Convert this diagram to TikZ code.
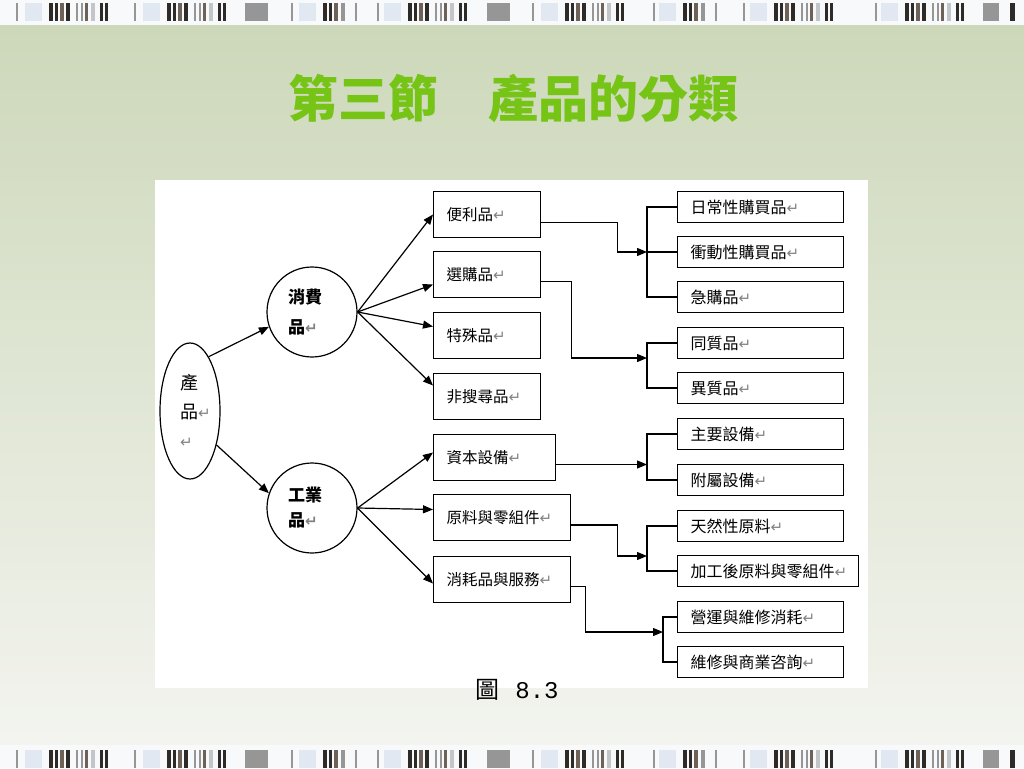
\documentclass[tikz,border=0pt]{standalone}
\usepackage{fontspec}
\setmainfont{Noto Sans CJK TC}
\newfontfamily\arrowfont{DejaVu Sans}
\newfontfamily\capfont{Liberation Mono}
\usetikzlibrary{positioning,shapes.geometric,arrows.meta}

\definecolor{titlegreen}{RGB}{118,196,22}
\definecolor{retgray}{RGB}{130,130,130}
\definecolor{bardark}{RGB}{45,42,40}
\definecolor{barbrown}{RGB}{110,98,88}
\definecolor{barmid}{RGB}{150,150,150}
\definecolor{barlight}{RGB}{195,198,200}
\definecolor{barpale}{RGB}{226,232,242}

\newcommand\retmark{{\color{retgray}\arrowfont\fontsize{15}{15}\selectfont ↵}}

\tikzset{
	midbox/.style={draw,anchor=west,minimum height=46pt,text width=#1,align=left,inner xsep=13pt,font=\fontsize{15.5}{18}\selectfont},
	subbox/.style={draw,anchor=west,minimum height=31pt,text width=#1,align=left,inner xsep=13pt,font=\fontsize{16}{18}\selectfont},
	catnode/.style={draw,circle,minimum size=90pt,inner sep=0pt,text width=48pt,align=left,font=\bfseries\fontsize{17}{30}\selectfont},
	prodnode/.style={draw,ellipse,minimum width=60pt,minimum height=136pt,inner sep=0pt,text width=20pt,align=left,font=\fontsize{18}{29}\selectfont}
}

\begin{document}
\begin{tikzpicture}[x=1pt,y=-1pt,line width=1.2pt,>={Triangle[length=10pt,width=8pt]}]

\useasboundingbox (0,0) rectangle (1024,768);

%%%%%%%%%%%%%%%%%%%%%%%%%%%%%%%%%%%%%%%%%%%%%%%%%%%%%%%%%%%%%%%%
% slide background
\shade [top color={rgb,255:red,205;green,216;blue,186},middle color={rgb,255:red,228;green,234;blue,218},bottom color={rgb,255:red,243;green,244;blue,239}] (0,25) rectangle (1024,745);
\fill [color={rgb,255:red,247;green,249;blue,251}] (0,0) rectangle (1024,25);
\fill [color={rgb,255:red,247;green,249;blue,251}] (0,745) rectangle (1024,768);

\foreach \by in {3,750} {
	\foreach \gx in {49,167,408,565,774,905} {
		\fill [barpale]  (\gx-24,\by) rectangle ++(17,18);
		\fill [bardark]  (\gx,\by)    rectangle ++(4,18);
		\fill [bardark]  (\gx+6,\by)  rectangle ++(3,18);
		\fill [barbrown] (\gx+11,\by) rectangle ++(4,18);
		\fill [bardark]  (\gx+17,\by) rectangle ++(4,18);
		\fill [barmid]   (\gx+27,\by) rectangle ++(2,18);
		\fill [barmid]   (\gx+32,\by) rectangle ++(2,18);
		\fill [barbrown] (\gx+36,\by) rectangle ++(3,18);
		\fill [barlight] (\gx+42,\by) rectangle ++(4,18);
		\fill [bardark]  (\gx+51,\by) rectangle ++(3,18);
		\fill [bardark]  (\gx+56,\by) rectangle ++(3,18);
	}
	\foreach \gx in {323,683} {
		\fill [barpale]  (\gx-24,\by) rectangle ++(17,18);
		\fill [bardark]  (\gx,\by)    rectangle ++(4,18);
		\fill [bardark]  (\gx+6,\by)  rectangle ++(3,18);
		\fill [barbrown] (\gx+11,\by) rectangle ++(4,18);
		\fill [barmid]   (\gx+18,\by) rectangle ++(4,18);
		\fill [barmid]   (\gx+32,\by) rectangle ++(2,18);
	}
	\foreach \gx in {245,487} {
		\fill [barmid] (\gx,\by) rectangle ++(23,18);
	}
	\foreach \gx in {16,134,291,377,532,653,743,875} {
		\fill [barmid] (\gx,\by) rectangle ++(2,18);
	}
	\fill [barmid]  (983,\by)  rectangle ++(16,18);
	\fill [bardark] (1010,\by) rectangle ++(5,18);
}

\node [font=\bfseries\fontsize{50}{54}\selectfont,text=titlegreen] (title) at (513,98) {第三節　產品的分類};

\fill [white] (155,180) rectangle (868,688);

%%%%%%%%%%%%%%%%%%%%%%%%%%%%%%%%%%%%%%%%%%%%%%%%%%%%%%%%%%%%%%%%
% diagram
\node [prodnode] (chanpin) at (190,411) {產\\品\retmark\\\retmark};
\node [catnode] (xiaofei) at (312,312) {消費\\品\retmark};
\node [catnode,font=\bfseries\fontsize{17}{25}\selectfont] (gongye) at (312,508) {工業\\品\retmark};

\foreach \nm/\yy/\bw/\txt in {bianli/214.5/81pt/便利品, xuangou/274.5/81pt/選購品, teshu/335.5/81pt/特殊品, feisou/396.5/81pt/非搜尋品, ziben/457.5/96pt/資本設備, yuanliao/517.5/111pt/原料與零組件, xiaohao/579.5/111pt/消耗品與服務}
	\node [midbox=\bw] (\nm) at (433,\yy) {\txt\retmark};

\foreach \nm/\yy/\bw/\txt in {richang/207/140pt/日常性購買品, chongdong/252/140pt/衝動性購買品, jigou/297/140pt/急購品, tongzhi/343/140pt/同質品, yizhi/388/140pt/異質品, zhuyao/434/140pt/主要設備, fushu/480/140pt/附屬設備, tianran/526/140pt/天然性原料, jiagong/571/155pt/加工後原料與零組件, yingyun/617/140pt/營運與維修消耗, weixiu/662/140pt/維修與商業咨詢}
	\node [subbox=\bw] (\nm) at (677,\yy) {\txt\retmark};

\draw [->] (chanpin.71) -- (xiaofei.199);
\draw [->] (chanpin.-52) -- (gongye.161);

\foreach \bn/\sh in {bianli/0pt,xuangou/-10pt,teshu/9pt,feisou/11pt}
	\draw [->] (xiaofei.east) -- ([yshift=\sh]\bn.west);
\foreach \bn/\sh in {ziben/5pt,yuanliao/8pt,xiaohao/-4pt}
	\draw [->] (gongye.east) -- ([yshift=\sh]\bn.west);

\draw [->] ([yshift=-8pt]bianli.east) -- ++(76,0) |- ([xshift=-30pt]chongdong.west);
\draw [->] ([yshift=-7pt]xuangou.east) -- ++(30,0) |- ([xshift=-30pt,yshift=-15pt]tongzhi.west);
\draw [->] ([yshift=-7pt]ziben.east) -- ([xshift=-30pt,yshift=15.5pt]fushu.west);
\draw [->] ([yshift=-7.5pt]yuanliao.east) -- ++(46,0) |- ([xshift=-30pt,yshift=15pt]jiagong.west);
\draw [->] ([yshift=-7pt]xiaohao.east) -- ++(14,0) |- ([xshift=-14pt,yshift=-15pt]yingyun.west);

\foreach \na/\nb/\dx in {richang/jigou/30pt,tongzhi/yizhi/30pt,zhuyao/fushu/30pt,tianran/jiagong/30pt,yingyun/weixiu/14pt}
	\draw (\na.west) -| ([xshift=-\dx]\nb.west) -- (\nb.west);
\draw ([xshift=-30pt]chongdong.west) -- (chongdong.west);

\node [font=\fontsize{24}{26}\selectfont] (caption) at (517,690) {圖\hspace{16pt}{\capfont 8.3}};

\end{tikzpicture}
\end{document}
